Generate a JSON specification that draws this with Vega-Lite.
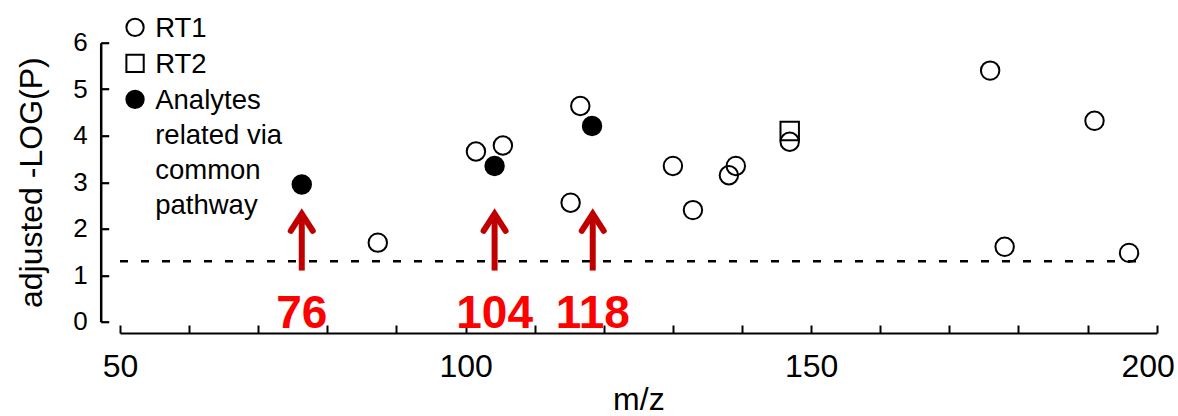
{
  "$schema": "https://vega.github.io/schema/vega-lite/v6.json",
  "width": 1036.7,
  "height": 279,
  "autosize": "none",
  "padding": {"left": 120, "top": 42.7, "right": 21.3, "bottom": 94.3},
  "background": "white",
  "config": {
    "view": {"stroke": null},
    "font": "Liberation Sans",
    "axis": {
      "grid": false,
      "domainColor": "black",
      "tickColor": "black",
      "labelColor": "black",
      "titleColor": "black",
      "domainWidth": 2,
      "tickWidth": 2,
      "labelFont": "Liberation Sans",
      "titleFont": "Liberation Sans",
      "titleFontWeight": "normal"
    },
    "axisY": {"domain": true, "ticks": true, "domainColor": "#000000", "tickColor": "#000000", "domainWidth": 2.5, "tickWidth": 2.2}
  },
  "layer": [
    {
      "data": {"values": [{"p": 1.3, "from": 50, "to": 198.5}]},
      "mark": {"type": "rule", "strokeDash": [8, 13], "strokeWidth": 2.5, "color": "black"},
      "encoding": {
        "x": {"field": "from", "type": "quantitative", "title": "m/z"},
        "x2": {"field": "to"},
        "y": {"field": "p", "type": "quantitative", "title": "adjusted -LOG(P)"}
      }
    },
    {
      "data": {
        "values": [
          {"mz": 87.3, "logp": 1.70, "type": "RT1"},
          {"mz": 101.5, "logp": 3.66, "type": "RT1"},
          {"mz": 105.4, "logp": 3.79, "type": "RT1"},
          {"mz": 115.2, "logp": 2.56, "type": "RT1"},
          {"mz": 116.6, "logp": 4.64, "type": "RT1"},
          {"mz": 130.0, "logp": 3.35, "type": "RT1"},
          {"mz": 132.9, "logp": 2.40, "type": "RT1"},
          {"mz": 138.1, "logp": 3.15, "type": "RT1"},
          {"mz": 139.1, "logp": 3.35, "type": "RT1"},
          {"mz": 146.9, "logp": 3.87, "type": "RT1"},
          {"mz": 175.9, "logp": 5.40, "type": "RT1"},
          {"mz": 178.0, "logp": 1.61, "type": "RT1"},
          {"mz": 191.0, "logp": 4.32, "type": "RT1"},
          {"mz": 196.0, "logp": 1.48, "type": "RT1"},
          {"mz": 146.9, "logp": 4.10, "type": "RT2"},
          {"mz": 76.3, "logp": 2.95, "type": "Analytes related via common pathway"},
          {"mz": 104.2, "logp": 3.35, "type": "Analytes related via common pathway"},
          {"mz": 118.3, "logp": 4.21, "type": "Analytes related via common pathway"}
        ]
      },
      "mark": {"type": "point", "filled": true, "stroke": "black", "strokeWidth": 2, "opacity": 1, "size": 340},
      "encoding": {
        "x": {
          "field": "mz", "type": "quantitative", "title": "m/z",
          "scale": {"domain": [50, 200], "nice": false, "zero": false},
          "axis": {
            "values": [50, 60, 70, 80, 90, 100, 110, 120, 130, 140, 150, 160, 170, 180, 190, 200],
            "labelExpr": "datum.value % 50 === 0 ? datum.label : ''",
            "offset": 11.3,
            "tickSize": -8,
            "labelPadding": 26.7,
            "labelFontSize": 32,
            "labelOffset": {"condition": {"test": "datum.value === 200", "value": -9}, "value": 0},
            "titleFontSize": 32,
            "titlePadding": 2,
            "labelFlush": false,
            "labelOverlap": false
          }
        },
        "y": {
          "field": "logp", "type": "quantitative", "title": "adjusted -LOG(P)",
          "scale": {"domain": [0, 6], "nice": false, "zero": false},
          "axis": {
            "values": [0, 1, 2, 3, 4, 5, 6],
            "offset": 19.3,
            "tickSize": -8,
            "labelPadding": 21.4,
            "labelFontSize": 26,
            "titleFontSize": 32,
            "titlePadding": 24,
            "labelFlush": false,
            "labelOverlap": false
          }
        },
        "shape": {
          "field": "type", "type": "nominal",
          "scale": {"domain": ["RT1", "RT2", "Analytes related via common pathway"], "range": ["circle", "square", "circle"]},
          "legend": {
            "title": null,
            "orient": "none",
            "legendX": 1.3,
            "legendY": -29,
            "padding": 0,
            "labelFontSize": 27.5,
            "labelFont": "Liberation Sans",
            "labelColor": "black",
            "labelLimit": 400,
            "labelOffset": 6.4,
            "labelBaseline": "alphabetic",
            "labelExpr": "datum.label === 'Analytes related via common pathway' ? ['Analytes', 'related via', 'common', 'pathway'] : datum.label",
            "symbolSize": 300,
            "symbolStrokeWidth": 2,
            "symbolStrokeColor": "black",
            "symbolOpacity": 1,
            "rowPadding": 6,
            "encode": {"labels": {"update": {"dy": {"value": 10}, "lineHeight": {"value": 35}}}}
          }
        },
        "fill": {
          "field": "type", "type": "nominal",
          "scale": {"domain": ["RT1", "RT2", "Analytes related via common pathway"], "range": ["transparent", "transparent", "black"]},
          "legend": {
            "title": null,
            "orient": "none",
            "legendX": 1.3,
            "legendY": -29,
            "padding": 0,
            "labelFontSize": 27.5,
            "labelFont": "Liberation Sans",
            "labelColor": "black",
            "labelLimit": 400,
            "labelOffset": 6.4,
            "labelBaseline": "alphabetic",
            "labelExpr": "datum.label === 'Analytes related via common pathway' ? ['Analytes', 'related via', 'common', 'pathway'] : datum.label",
            "symbolSize": 300,
            "symbolStrokeWidth": 2,
            "symbolStrokeColor": "black",
            "symbolOpacity": 1,
            "rowPadding": 6,
            "encode": {"labels": {"update": {"dy": {"value": 10}, "lineHeight": {"value": 35}}}}
          }
        }
      }
    },
    {
      "data": {"values": [{"mz": 76.3, "label": "76"}, {"mz": 104.2, "label": "104"}, {"mz": 118.4, "label": "118"}]},
      "layer": [
        {
          "mark": {"type": "rule", "color": "#c00000", "strokeWidth": 6},
          "encoding": {
            "x": {"field": "mz", "type": "quantitative", "title": "m/z"},
            "y": {"datum": 1.1, "type": "quantitative", "title": "adjusted -LOG(P)"},
            "y2": {"datum": 2.32}
          }
        },
        {
          "mark": {"type": "point", "shape": "M-0.55,0.85L0,0L0.55,0.85", "size": 1600, "filled": false, "color": "#c00000", "strokeWidth": 6, "strokeCap": "round", "strokeJoin": "miter", "opacity": 1},
          "encoding": {
            "x": {"field": "mz", "type": "quantitative", "title": "m/z"},
            "y": {"datum": 2.32, "type": "quantitative", "title": "adjusted -LOG(P)"}
          }
        },
        {
          "mark": {"type": "text", "color": "#ff0000", "fontSize": 46, "fontWeight": "bold", "font": "Liberation Sans", "baseline": "alphabetic", "align": "center", "dy": 6.3},
          "encoding": {
            "x": {"field": "mz", "type": "quantitative", "title": "m/z"},
            "y": {"datum": 0, "type": "quantitative", "title": "adjusted -LOG(P)"},
            "text": {"field": "label"}
          }
        }
      ]
    }
  ]
}
